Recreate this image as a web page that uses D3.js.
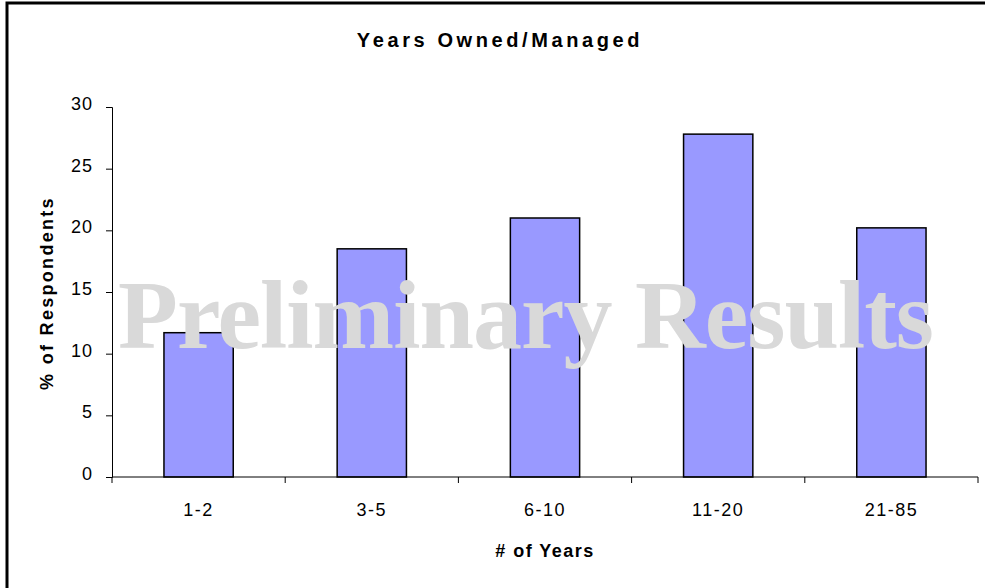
<!DOCTYPE html>
<html>
<head>
<meta charset="utf-8">
<script src="https://cdn.jsdelivr.net/npm/d3@7"></script>
<style>
  html, body { margin: 0; padding: 0; background: #fff; }
  svg { display: block; font-family: "Liberation Sans", Arial, sans-serif; }
</style>
</head>
<body>
<svg id="chart" width="985" height="588"></svg>
<script>
// chart data
const categories = ["1-2", "3-5", "6-10", "11-20", "21-85"];
const percents   = [11.7, 18.5, 21.0, 27.8, 20.2];
const yTicks     = [0, 5, 10, 15, 20, 25, 30];

const svg = d3.select("#chart");

// outer frame (runs off the right/bottom edge like the original)
svg.append("rect")
  .attr("x", 7).attr("y", 3)
  .attr("width", 1000).attr("height", 620)
  .attr("fill", "none").attr("stroke", "#000").attr("stroke-width", 3);

const plot = { left: 112, right: 978, top: 107, bottom: 477 };

const x = d3.scaleBand()
  .domain(categories)
  .range([plot.left, plot.right])
  .paddingInner(0.6).paddingOuter(0.3);

const xTick = d3.scaleLinear().domain([0, categories.length]).range([plot.left, plot.right]);

const y = d3.scaleLinear().domain([0, 30]).range([plot.bottom, plot.top]);

// bars
svg.append("g")
  .selectAll("rect")
  .data(categories)
  .join("rect")
  .attr("x", d => x(d))
  .attr("y", (d, i) => y(percents[i]))
  .attr("width", x.bandwidth())
  .attr("height", (d, i) => y(0) - y(percents[i]))
  .attr("fill", "#9999ff")
  .attr("stroke", "#000")
  .attr("stroke-width", 1.5);

// y axis
const yAxis = svg.append("g")
  .attr("transform", `translate(${plot.left},0)`)
  .call(d3.axisLeft(y).tickValues(yTicks).tickSize(6).tickPadding(13));
yAxis.select(".domain").attr("stroke", "#000");
yAxis.selectAll("text")
  .attr("font-size", 18).attr("fill", "#000")
  .attr("letter-spacing", 1)
  .attr("dy", "0.14em")
  .attr("font-family", "Liberation Sans, Arial, sans-serif");

// x axis line + ticks between categories
const xg = svg.append("g");
xg.append("line")
  .attr("x1", plot.left).attr("x2", plot.right)
  .attr("y1", plot.bottom).attr("y2", plot.bottom)
  .attr("stroke", "#000");
xg.selectAll("line.tick")
  .data(d3.range(categories.length + 1))
  .join("line")
  .attr("class", "tick")
  .attr("x1", d => xTick(d)).attr("x2", d => xTick(d))
  .attr("y1", plot.bottom).attr("y2", plot.bottom + 6)
  .attr("stroke", "#000");
xg.selectAll("text")
  .data(categories)
  .join("text")
  .attr("x", d => x(d) + x.bandwidth() / 2)
  .attr("y", 516)
  .attr("text-anchor", "middle")
  .attr("font-size", 18)
  .attr("letter-spacing", 1.5)
  .text(d => d);

// watermark, drawn over the bars
svg.append("text")
  .attr("x", 526).attr("y", 348)
  .attr("text-anchor", "middle")
  .attr("font-family", "Liberation Serif, 'Times New Roman', serif")
  .attr("font-weight", "bold")
  .attr("font-size", 98)
  .attr("textLength", 816)
  .attr("fill", "#d9d9d9")
  .text("Preliminary Results");

// titles
svg.append("text")
  .attr("x", 500).attr("y", 47)
  .attr("text-anchor", "middle")
  .attr("font-size", 20).attr("font-weight", "bold")
  .attr("letter-spacing", 3.6)
  .text("Years Owned/Managed");

svg.append("text")
  .attr("x", 545).attr("y", 557)
  .attr("text-anchor", "middle")
  .attr("font-size", 18).attr("font-weight", "bold")
  .attr("letter-spacing", 1.5)
  .text("# of Years");

svg.append("text")
  .attr("transform", "translate(53,293) rotate(-90)")
  .attr("text-anchor", "middle")
  .attr("font-size", 18).attr("font-weight", "bold")
  .attr("letter-spacing", 2.3)
  .text("% of Respondents");
</script>
</body>
</html>
